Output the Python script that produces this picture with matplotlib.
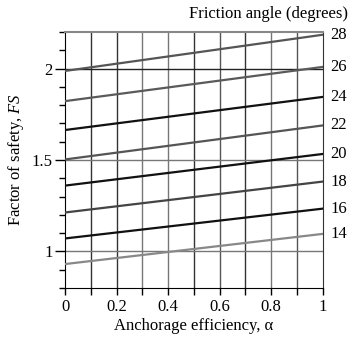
from matplotlib import pyplot as plt
import numpy as np

# %% Data

alpha = [0.0, 1.0]
angles = [28, 26, 24, 22, 20, 18, 16, 14]
fs_start = [1.987, 1.822, 1.664, 1.503, 1.360, 1.213, 1.071, 0.931]
fs_end = [2.185, 2.009, 1.845, 1.689, 1.533, 1.382, 1.234, 1.096]
line_colors = ['#555555', '#5a5a5a', '#111111', '#555555',
               '#111111', '#444444', '#111111', '#888888']

x_ticks = [0, 0.2, 0.4, 0.6, 0.8, 1]
x_labels = ['0', '0.2', '0.4', '0.6', '0.8', '1']
y_ticks = [1, 1.5, 2]
y_labels = ['1', '1.5', '2']

# %% Style

plt.rcParams['font.family'] = ['Liberation Serif', 'DejaVu Serif']
plt.rcParams['mathtext.fontset'] = 'custom'
plt.rcParams['mathtext.it'] = 'Liberation Serif:italic'
plt.rcParams['mathtext.rm'] = 'Liberation Serif'
plt.rcParams['font.size'] = 12

fig = plt.figure(figsize=(3.52, 3.39), dpi=100)
ax = fig.add_axes([0.1847, 0.1504, 0.9168 - 0.1847, 0.9056 - 0.1504])

# %% Grid

grid_x = np.arange(0.1, 1.0, 0.1)
grid_colors = ['#333333', '#333333', '#777777', '#777777', '#333333',
               '#555555', '#333333', '#777777', '#555555']
for xv, c in zip(grid_x, grid_colors):
    ax.axvline(xv, color=c, lw=1.0, zorder=1)
for yv, c in zip(y_ticks, ['#777777', '#777777', '#222222']):
    ax.axhline(yv, color=c, lw=1.0, zorder=1)

# %% Lines

for a, s, e, c in zip(angles, fs_start, fs_end, line_colors):
    ax.plot(alpha, [s, e], color=c, lw=1.6, zorder=3)
    ax.text(1.03, e, str(a), va='center', ha='left', fontsize=12)

ax.text(1.1, 2.255, 'Friction angle (degrees)', ha='right', va='bottom',
        fontsize=12)

# %% Axes

ax.set_xlim(0, 1)
ax.set_ylim(0.8, 2.2)
ax.set_xticks(x_ticks)
ax.set_xticklabels(x_labels)
ax.set_xticks(np.arange(0, 1.01, 0.1), minor=True)
ax.set_yticks(y_ticks)
ax.set_yticklabels(y_labels)
ax.set_yticks(np.arange(0.8, 2.21, 0.1), minor=True)
ax.tick_params(which='major', direction='out', length=7, width=1, pad=2)
ax.tick_params(which='minor', direction='out', length=4, width=1)
ax.tick_params(axis='x', which='both', length=5, pad=3)
ax.spines['top'].set_color('#888888')
ax.spines['top'].set_linewidth(1.5)
ax.spines['right'].set_color('#333333')
ax.set_xlabel('Anchorage efficiency, α', labelpad=2)
ax.set_ylabel('Factor of safety, $\\it{FS}$')
ax.yaxis.set_label_coords(-0.151, 0.5)

fig.savefig('out.png', dpi=100)
